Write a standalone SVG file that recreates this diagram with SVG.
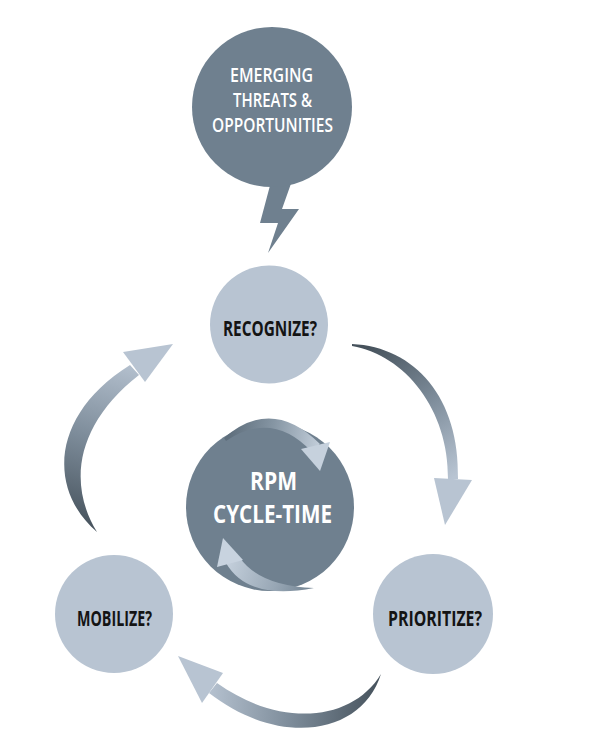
<svg xmlns="http://www.w3.org/2000/svg" width="592" height="754" viewBox="0 0 592 754">
<defs>
<style>
.dark{fill:#6f808f}
.light{fill:#b8c4d2}
.wt{fill:#ffffff;font-family:"Open Sans","DejaVu Sans","Liberation Sans",sans-serif;font-weight:600;text-anchor:middle;font-size:19.5px}
.ct{fill:#ffffff;font-family:"Open Sans","DejaVu Sans","Liberation Sans",sans-serif;font-weight:bold;text-anchor:middle;font-size:25px}
.bt{fill:#141414;font-family:"Open Sans","DejaVu Sans","Liberation Sans",sans-serif;font-weight:bold;text-anchor:middle;font-size:22px}
</style>
<linearGradient id="gR" gradientUnits="userSpaceOnUse" x1="370" y1="345" x2="452" y2="478">
<stop offset="0" stop-color="#46525c"/><stop offset="0.5" stop-color="#7d8c9a"/><stop offset="1" stop-color="#b8c4d2"/>
</linearGradient>
<linearGradient id="gB" gradientUnits="userSpaceOnUse" x1="380" y1="690" x2="205" y2="680">
<stop offset="0" stop-color="#46525c"/><stop offset="0.5" stop-color="#7d8c9a"/><stop offset="1" stop-color="#b8c4d2"/>
</linearGradient>
<linearGradient id="gL" gradientUnits="userSpaceOnUse" x1="90" y1="530" x2="140" y2="360">
<stop offset="0" stop-color="#46525c"/><stop offset="0.5" stop-color="#7d8c9a"/><stop offset="1" stop-color="#b8c4d2"/>
</linearGradient>
<linearGradient id="gI1" gradientUnits="userSpaceOnUse" x1="228" y1="435" x2="322" y2="450">
<stop offset="0" stop-color="#5e6e7c"/><stop offset="0.45" stop-color="#8595a3"/><stop offset="1" stop-color="#c6d1dd"/>
</linearGradient>
<linearGradient id="gI2" gradientUnits="userSpaceOnUse" x1="225" y1="555" x2="315" y2="590">
<stop offset="0" stop-color="#c8d3df"/><stop offset="0.6" stop-color="#98a7b5"/><stop offset="1" stop-color="#6f808f"/>
</linearGradient>
</defs>

<g id="connectors">
<g id="arrow-recognize-prioritize">
<path d="M352,344 C415,347 460,398 458,479 L448,479 C449,410 405,355 352,346 Z" fill="url(#gR)"/>
<polygon points="434,478 472,480 445,525" fill="#b8c4d2"/>
</g>
<g id="arrow-prioritize-mobilize">
<path d="M381,674 C362,735 280,748 209,693 L217,683 C280,728 352,722 381,674 Z" fill="url(#gB)"/>
<polygon points="178,656 223,673 202,703" fill="#b8c4d2"/>
</g>
<g id="arrow-mobilize-recognize">
<path d="M97,532 C48,490 50,415 130,365 L139,375 C75,425 68,485 97,532 Z" fill="url(#gL)"/>
<polygon points="173,344 123,352 145,382" fill="#b8c4d2"/>
</g>
</g>

<g id="node-emerging">
<polygon class="dark" points="272,178 293,178 282,209 299,209 268,253 278,223 260,223"/>
<circle class="dark" cx="272" cy="107" r="80"/>
<text class="wt" x="271.5" y="82" textLength="83" lengthAdjust="spacingAndGlyphs">EMERGING</text>
<text class="wt" x="272.5" y="107" textLength="79" lengthAdjust="spacingAndGlyphs">THREATS &amp;</text>
<text class="wt" x="272.5" y="132" textLength="121" lengthAdjust="spacingAndGlyphs">OPPORTUNITIES</text>
</g>

<g id="node-recognize">
<circle class="light" cx="269" cy="324.5" r="59"/>
<text class="bt" x="270" y="336" textLength="94" lengthAdjust="spacingAndGlyphs">RECOGNIZE?</text>
</g>

<g id="node-rpm">
<circle class="dark" cx="270" cy="507" r="84"/>
<path d="M224,438 Q272,396 320,444 L311,451 Q272,410 226,441 Z" fill="url(#gI1)"/>
<polygon points="301,449 330,442 320,471" fill="#c6d1dd"/>
<path d="M226,563 Q248,601 314,588 Q260,586 240,558 Z" fill="url(#gI2)"/>
<polygon points="223,538 217,567 243,560" fill="#c8d3df"/>
<text class="ct" x="273.5" y="490" textLength="47" lengthAdjust="spacingAndGlyphs">RPM</text>
<text class="ct" x="272.5" y="523" textLength="119" lengthAdjust="spacingAndGlyphs">CYCLE-TIME</text>
</g>

<g id="node-prioritize">
<circle class="light" cx="433" cy="614" r="60"/>
<text class="bt" x="435" y="626" textLength="94" lengthAdjust="spacingAndGlyphs">PRIORITIZE?</text>
</g>

<g id="node-mobilize">
<circle class="light" cx="114" cy="614" r="59"/>
<text class="bt" x="114.5" y="626" textLength="75" lengthAdjust="spacingAndGlyphs">MOBILIZE?</text>
</g>
</svg>
